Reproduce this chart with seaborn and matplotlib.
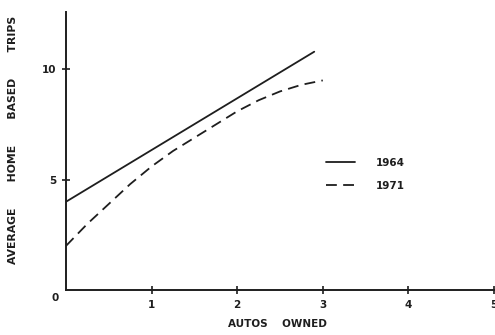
import numpy as np
import pandas as pd
import matplotlib
matplotlib.use("Agg")
import matplotlib.pyplot as plt
import seaborn as sns

# values
autos_1964 = [0.0, 2.9]
trips_1964 = [4.0, 10.8]

autos_1971 = [0.0, 0.25, 0.5, 0.75, 1.0, 1.25, 1.5, 1.75, 2.0, 2.25, 2.5, 2.75, 3.0]
trips_1971 = [2.0, 3.0, 3.9, 4.8, 5.6, 6.3, 6.9, 7.5, 8.1, 8.6, 9.0, 9.3, 9.5]

x_ticks = [1, 2, 3, 4, 5]
y_ticks = [5, 10]

sns.set_style("white")
plt.rcParams['font.family'] = ['DejaVu Sans']

ink = '#1e1e1e'
fig = plt.figure(figsize=(4.95, 3.35), dpi=100)
ax = fig.add_axes([66 / 495, 45 / 335, 428 / 495, 278 / 335])

df64 = pd.DataFrame({'autos': autos_1964, 'trips': trips_1964})
df71 = pd.DataFrame({'autos': autos_1971, 'trips': trips_1971})
sns.lineplot(data=df64, x='autos', y='trips', ax=ax, color=ink, lw=1.3, label='1964')
sns.lineplot(data=df71, x='autos', y='trips', ax=ax, color=ink, lw=1.3,
             linestyle=(0, (6, 3.5)), label='1971')

ax.set_xlim(0, 5)
ax.set_ylim(0, 12.6)
ax.set_xticks(x_ticks)
ax.set_xticklabels([str(t) for t in x_ticks])
ax.set_yticks(y_ticks)
ax.set_yticklabels([str(t) for t in y_ticks])
ax.tick_params(bottom=True, left=True, direction='inout', length=6, width=1.2,
               color=ink, labelsize=7.5, labelcolor=ink, pad=4)
for t in ax.get_xticklabels() + ax.get_yticklabels():
    t.set_fontweight('bold')

sns.despine(ax=ax)
for s in ['left', 'bottom']:
    ax.spines[s].set_color(ink)
    ax.spines[s].set_linewidth(1.4)

ax.text(-0.13, -0.35, '0', ha='center', va='center', fontsize=7.5,
        fontweight='bold', color=ink)

ax.set_xlabel('AUTOS    OWNED', fontsize=7.5, fontweight='bold', color=ink)
ax.xaxis.set_label_coords(0.495, -0.105)
ax.set_ylabel('AVERAGE       HOME       BASED       TRIPS', fontsize=7.8,
              fontweight='bold', color=ink)
ax.yaxis.set_label_coords(-0.113, 0.54)

leg = ax.legend(loc='upper left', bbox_to_anchor=(0.585, 0.51), frameon=False,
                handlelength=2.8, handletextpad=2.0, labelspacing=1.3,
                prop={'size': 7.5, 'weight': 'bold'})
for txt in leg.get_texts():
    txt.set_color(ink)

fig.savefig('out.png', dpi=100)
